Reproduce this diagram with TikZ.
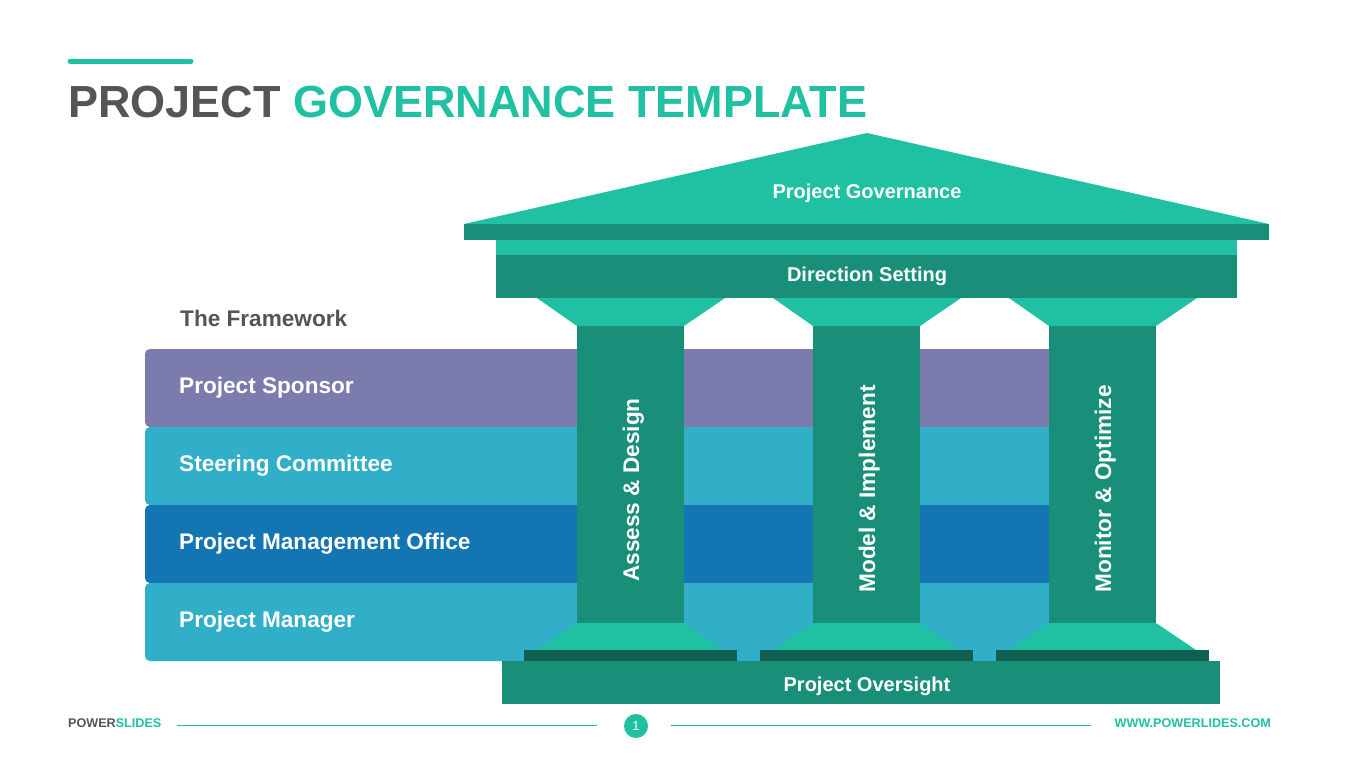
\documentclass[tikz,border=0pt]{standalone}
\usepackage{fontspec}
\setmainfont{Liberation Sans}
\definecolor{tealL}{HTML}{20C0A3}
\definecolor{tealD}{HTML}{198F7A}
\definecolor{tealX}{HTML}{0F5F52}
\definecolor{purp}{HTML}{7B7BAD}
\definecolor{cyanR}{HTML}{31AEC8}
\definecolor{blueR}{HTML}{1375B1}
\definecolor{grayT}{HTML}{555555}
\tikzset{
  bandtxt/.style={text=white, font=\bfseries\fontsize{20}{24}\selectfont, inner sep=0pt},
  rowtxt/.style={text=white, font=\bfseries\fontsize{22.6}{27}\selectfont, inner sep=0pt, anchor=base west},
  coltxt/.style={text=white, font=\bfseries\fontsize{22.6}{27}\selectfont, inner sep=0pt, rotate=90, text height=16.3pt, text depth=0pt},
  rowbox/.style={rounded corners=5pt}
}
\begin{document}
\begin{tikzpicture}[x=1pt,y=-1pt]
\useasboundingbox[fill=white] (0,0) rectangle (1365,766);
% accent line
\draw[tealL, line width=5pt, line cap=round] (70,61) -- (191,61);
% title
\node[anchor=base west, inner sep=0pt, font=\bfseries\fontsize{45}{54}\selectfont] (title) at (68,117)
  {\textcolor{grayT}{PROJECT} \textcolor{tealL}{GOVERNANCE TEMPLATE}};
% framework label
\node[anchor=base west, inner sep=0pt, text=grayT, font=\bfseries\fontsize{22.6}{27}\selectfont] (fw) at (180,326) {The Framework};
% rows
\fill[purp, rowbox] (145,349) rectangle (1100,427);
\fill[cyanR, rowbox] (145,427) rectangle (1100,505);
\fill[blueR, rowbox] (145,505) rectangle (1100,583);
\fill[cyanR, rowbox] (145,583) rectangle (1100,661);
\node[rowtxt] (r1) at (179,393) {Project Sponsor};
\node[rowtxt] (r2) at (179,471) {Steering Committee};
\node[rowtxt] (r3) at (179,549) {Project Management Office};
\node[rowtxt] (r4) at (179,627) {Project Manager};
% roof
\fill[tealL] (464,224) -- (867,133) -- (1269,224) -- cycle;
\fill[tealD] (464,224) rectangle (1269,240);
\fill[tealL] (496,240) rectangle (1237,255);
\fill[tealD] (496,255) rectangle (1237,298);
\node[bandtxt, anchor=base] (gov) at (867,198) {Project Governance};
\node[bandtxt, anchor=base] (dir) at (867,281) {Direction Setting};
% columns
\foreach \dx in {0,236,472}{
  \fill[tealL] (537+\dx,298) -- (725+\dx,298) -- (684+\dx,326) -- (577+\dx,326) -- cycle;
  \fill[tealD] (577+\dx,326) rectangle (684+\dx,623);
  \fill[tealL] (577+\dx,623) -- (684+\dx,623) -- (724+\dx,650) -- (537+\dx,650) -- cycle;
  \fill[tealX] (524+\dx,650) rectangle (737+\dx,661);
}
\node[coltxt] (c1) at (631,490) {Assess \& Design};
\node[coltxt] (c2) at (867,489) {Model \& Implement};
\node[coltxt] (c3) at (1103,489) {Monitor \& Optimize};
% oversight
\fill[tealD] (502,661) rectangle (1220,704);
\node[bandtxt, anchor=base] (ov) at (867,691) {Project Oversight};
% footer
\node[anchor=base west, inner sep=0pt, font=\bfseries\fontsize{12.6}{15}\selectfont] (ps) at (68,727.5)
  {\textcolor{grayT}{POWER}\textcolor{tealL}{SLIDES}};
\node[anchor=base east, inner sep=0pt, text=tealL, font=\bfseries\fontsize{12.6}{15}\selectfont] (www) at (1271,727.5) {WWW.POWERLIDES.COM};
\node[circle, fill=tealL, minimum size=24pt, inner sep=0pt, text=white, font=\fontsize{13}{15}\selectfont] (pg) at (636,726) {1};
\coordinate (l1a) at (177,725);
\coordinate (l1b) at (597,725);
\coordinate (l2a) at (671,725);
\coordinate (l2b) at (1091,725);
\draw[tealL, line width=1pt] (l1a) -- (l1b);
\draw[tealL, line width=1pt] (l2a) -- (l2b);
\end{tikzpicture}
\end{document}
